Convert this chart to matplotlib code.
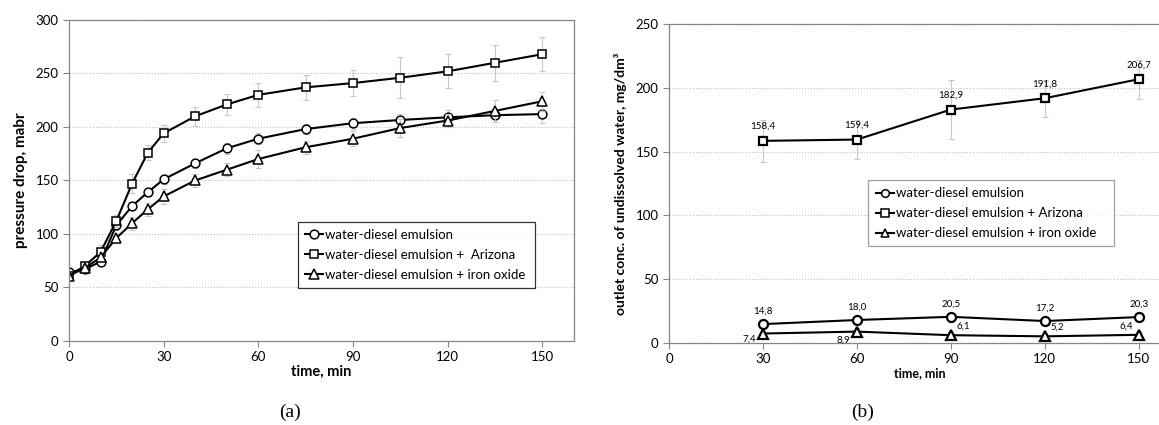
import matplotlib
matplotlib.use("Agg")
import matplotlib.pyplot as plt

plt.rcParams['font.family'] = ['Lato', 'DejaVu Sans']

# (a) pressure drop
t_a = [0, 5, 10, 15, 20, 25, 30, 40, 50, 60, 75, 90, 105, 120, 135, 150]
dp_emul = [64, 67, 74, 108, 126, 139, 151, 166, 180, 189, 198, 203.5, 206.5, 209, 211, 212]
dp_emul_err = [2, 2, 3, 4, 4, 4, 4, 4, 5, 5, 5, 5, 6, 7, 6, 8]
dp_ariz = [61, 70, 83, 112, 147, 176, 194, 210, 221, 230, 237, 241, 246, 252, 260, 268]
dp_ariz_err = [2, 3, 7, 6, 9, 7, 8, 9, 10, 11, 12, 12, 19, 16, 17, 16]
dp_iron = [61, 68, 78, 96, 110, 123, 135, 150, 160, 170, 181, 189, 199, 206, 215, 224]
dp_iron_err = [2, 2, 3, 4, 6, 6, 7, 6, 6, 8, 6, 7, 8, 6, 10, 9]

# (b) outlet concentration
t_b = [30, 60, 90, 120, 150]
c_emul = [14.8, 18.0, 20.5, 17.2, 20.3]
c_emul_err = [2, 3, 2, 2, 2]
c_ariz = [158.4, 159.4, 182.9, 191.8, 206.7]
c_ariz_err = [16.5, 15, 23, 14.6, 15.4]
c_iron = [7.4, 8.9, 6.1, 5.2, 6.4]
c_iron_err = [2, 3, 2, 2, 2]

names = ['water-diesel emulsion', 'water-diesel emulsion +  Arizona',
         'water-diesel emulsion + iron oxide']
names_b = ['water-diesel emulsion', 'water-diesel emulsion + Arizona',
           'water-diesel emulsion + iron oxide']
markers = ['o', 's', '^']

grey = '#868686'
errc = '#c8c8c8'


def style(ax):
    for s in ax.spines.values():
        s.set_color(grey)
        s.set_linewidth(0.9)
    ax.tick_params(colors=grey, labelcolor='black', labelsize=9.5, length=4, width=0.8)
    ax.yaxis.grid(True, color='#bdbdbd', linestyle=':', linewidth=0.8)
    ax.set_axisbelow(True)


def series(ax, x, y, e, m, label, ms=6.5, mew=1.1):
    ax.errorbar(x, y, yerr=e, fmt='none', ecolor=errc, elinewidth=0.8, capsize=2, capthick=0.8)
    ax.plot(x, y, color='black', lw=1.5, marker=m, ms=ms, mfc='white',
            mec='black', mew=mew, label=label)


fig = plt.figure(figsize=(11.59, 4.25), dpi=100)

ax1 = fig.add_axes([0.0595, 0.198, 0.4357, 0.755])
style(ax1)
series(ax1, t_a, dp_emul, dp_emul_err, markers[0], names[0], ms=6.3)
series(ax1, t_a, dp_ariz, dp_ariz_err, markers[1], names[1], ms=5.8)
series(ax1, t_a, dp_iron, dp_iron_err, markers[2], names[2], ms=6.5)
ax1.set_xlim(0, 160)
ax1.set_ylim(0, 300)
ax1.set_xticks([0, 30, 60, 90, 120, 150])
ax1.set_yticks(range(0, 301, 50))
ax1.set_xlabel('time, min', fontsize=10.5, fontweight='bold', labelpad=1)
ax1.set_ylabel('pressure drop, mabr', fontsize=11, fontweight='bold', labelpad=5)
leg1 = ax1.legend(loc='lower left', bbox_to_anchor=(0.44, 0.144, 0.495, 0.216), mode='expand',
                  fontsize=9.5, frameon=True, fancybox=False, handlelength=1.4, handletextpad=0.1,
                  borderpad=0.55, labelspacing=0.6)
leg1.get_frame().set_edgecolor('black')
leg1.get_frame().set_linewidth(0.9)

ax2 = fig.add_axes([0.5772, 0.193, 0.4323, 0.7506])
style(ax2)
series(ax2, t_b, c_emul, c_emul_err, markers[0], names_b[0], ms=6.5, mew=1.6)
series(ax2, t_b, c_ariz, c_ariz_err, markers[1], names_b[1], ms=6, mew=1.6)
series(ax2, t_b, c_iron, c_iron_err, markers[2], names_b[2], ms=6.5, mew=1.6)
ax2.set_xlim(0, 160)
ax2.set_ylim(0, 250)
ax2.set_xticks([0, 30, 60, 90, 120, 150])
ax2.set_yticks(range(0, 251, 50))
ax2.set_xlabel('time, min', fontsize=9, fontweight='bold', labelpad=1)
ax2.set_ylabel('outlet conc. of undissolved water, mg/dm³', fontsize=10, fontweight='bold', labelpad=6)

lab = lambda v: f'{v:.1f}'.replace('.', ',')
for x, y in zip(t_b, c_ariz):
    ax2.annotate(lab(y), (x, y), xytext=(0, 7), textcoords='offset points',
                 ha='center', va='bottom', fontsize=7)
for x, y in zip(t_b, c_emul):
    ax2.annotate(lab(y), (x, y), xytext=(0, 6), textcoords='offset points',
                 ha='center', va='bottom', fontsize=7)
iron_off = [(-5, -1, 'right'), (-5, -3, 'right'), (4, 3, 'left'), (4, 3, 'left'), (-4, 3, 'right')]
for (x, y), (dx, dy, h) in zip(zip(t_b, c_iron), iron_off):
    ax2.annotate(lab(y), (x, y), xytext=(dx, dy), textcoords='offset points',
                 ha=h, va='bottom' if dy > 0 else 'top', fontsize=7)

leg2 = ax2.legend(loc='lower left', bbox_to_anchor=(0.385, 0.282, 0.517, 0.223), mode='expand',
                  fontsize=9.5, frameon=True, fancybox=False, handlelength=1.4, handletextpad=0.1,
                  borderpad=0.55, labelspacing=0.6)
leg2.get_frame().set_edgecolor(grey)
leg2.get_frame().set_linewidth(0.9)
for h in leg2.legend_handles:
    h.set_markersize(5.5)
    h.set_markeredgewidth(1.1)

fig.text(0.25, 0.03, '(a)', ha='center', va='center', fontsize=14, family='Liberation Serif')
fig.text(0.744, 0.03, '(b)', ha='center', va='center', fontsize=14, family='Liberation Serif')

fig.savefig('out.png', dpi=100)
